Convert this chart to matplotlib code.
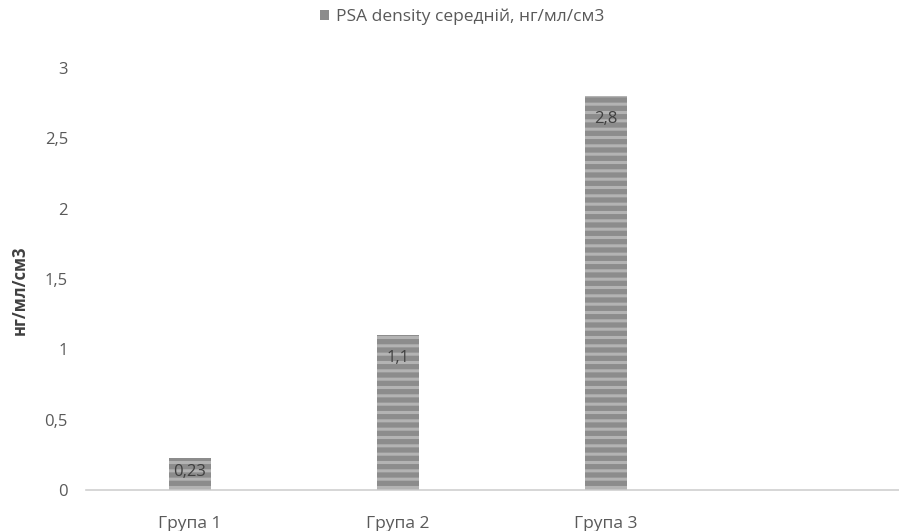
import matplotlib
matplotlib.use("Agg")
import matplotlib.pyplot as plt
from matplotlib.ticker import FuncFormatter

groups = ["Група 1", "Група 2", "Група 3"]
psa_density = [0.23, 1.1, 2.8]
labels = ["0,23", "1,1", "2,8"]
yticks = [0, 0.5, 1, 1.5, 2, 2.5, 3]
series_name = "PSA density середній, нг/мл/см3"
ylabel = "нг/мл/см3"

plt.rcParams['font.family'] = ['Open Sans', 'DejaVu Sans']
plt.rcParams['hatch.linewidth'] = 2.2
txt = '#595959'

fig = plt.figure(figsize=(8.99, 5.31), dpi=100)
W, H = 899, 531
ax = fig.add_axes([86 / W, 1 - 490 / H, (W - 86) / W, (490 - 68) / H])

xs = list(range(len(groups)))
bars = ax.bar(xs, psa_density, width=0.2, color='#8c8c8c', linewidth=0,
              label=series_name)
# lighter horizontal stripes over the bars
ax.bar(xs, psa_density, width=0.2, color='none', edgecolor='#b3b3b3',
       linewidth=0, hatch='--')

# data labels just inside the top of each bar
for x, v, lab in zip(xs, psa_density, labels):
    off = -14 if v < 0.5 else -23
    ax.annotate(lab, (x, v), xytext=(0, off), textcoords='offset pixels',
                ha='center', va='center', fontsize=12, color='#404040')

ax.set_xlim(-0.5, 3.41)
ax.set_ylim(0, 3)
ax.set_yticks(yticks)
ax.yaxis.set_major_formatter(FuncFormatter(lambda v, p: ('%g' % v).replace('.', ',')))
ax.set_xticks(xs)
ax.set_xticklabels(groups)
ax.tick_params(axis='y', length=0, pad=13, labelsize=12, labelcolor=txt)
ax.tick_params(axis='x', length=0, pad=19, labelsize=12.5, labelcolor=txt)

for s in ['top', 'right', 'left']:
    ax.spines[s].set_visible(False)
ax.spines['bottom'].set_color('#d0d0d0')
ax.spines['bottom'].set_linewidth(1.2)

fig.text(20 / W, 1 - 290 / H, ylabel, rotation=90, ha='center', va='center',
         fontsize=12, fontweight='bold', color='#404040')

fig.legend(handles=[bars], loc='center', bbox_to_anchor=(462 / W, 1 - 17 / H),
           frameon=False, fontsize=12.5, labelcolor=txt, handlelength=0.55,
           handleheight=0.55, handletextpad=0.4)

fig.savefig("out.png", dpi=100)
